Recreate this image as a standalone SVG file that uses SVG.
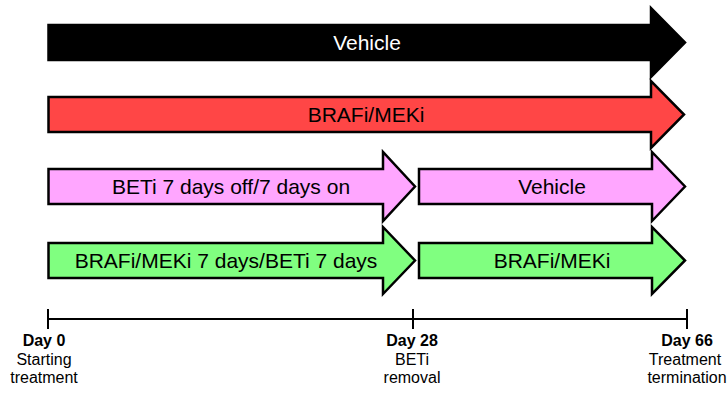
<svg xmlns="http://www.w3.org/2000/svg" width="728" height="396" viewBox="0 0 728 396">
  <style>
    .arrow { stroke: #000; stroke-width: 2.5; stroke-linejoin: miter; }
    .black { fill: #000; }
    .red { fill: #FF4646; }
    .pink { fill: #FFA6FF; }
    .green { fill: #80FF80; }
    .lbl { font-family: "Liberation Sans", Arial, sans-serif; font-size: 21px; text-anchor: middle; fill: #000; }
    .lbl.inv { fill: #fff; }
    .axis { stroke: #000; stroke-width: 2; fill: none; }
    .day { font-family: "Liberation Sans", Arial, sans-serif; font-size: 16px; font-weight: bold; text-anchor: middle; fill: #000; }
    .note { font-family: "Liberation Sans", Arial, sans-serif; font-size: 16px; text-anchor: middle; fill: #000; }
  </style>

  <!-- Row 1: vehicle, full length -->
  <g id="vehicle-full">
    <path class="arrow black" d="M48.5,25 H651 V8 L685,42.5 L651,77 V60 H48.5 Z"/>
    <text class="lbl inv" x="367" y="50">Vehicle</text>
  </g>

  <!-- Row 2: BRAFi/MEKi, full length -->
  <g id="brafi-meki-full">
    <path class="arrow red" d="M48.5,97 H651 V81 L684,114.5 L651,148 V132 H48.5 Z"/>
    <text class="lbl" x="366" y="122">BRAFi/MEKi</text>
  </g>

  <!-- Row 3: BETi intermittent, then vehicle -->
  <g id="beti-intermittent">
    <path class="arrow pink" d="M48.5,169 H383 V152 L415,186.5 L383,221 V204 H48.5 Z"/>
    <text class="lbl" x="231" y="194">BETi 7 days off/7 days on</text>
  </g>
  <g id="vehicle-after">
    <path class="arrow pink" d="M419,169 H652 V152 L685,186.5 L652,221 V204 H419 Z"/>
    <text class="lbl" x="552" y="194">Vehicle</text>
  </g>

  <!-- Row 4: alternating BRAFi/MEKi and BETi, then BRAFi/MEKi -->
  <g id="alternating">
    <path class="arrow green" d="M48.5,243 H383 V227 L415,260.5 L383,294 V278 H48.5 Z"/>
    <text class="lbl" x="226" y="268">BRAFi/MEKi 7 days/BETi 7 days</text>
  </g>
  <g id="brafi-meki-after">
    <path class="arrow green" d="M419,243 H652 V227 L685,260.5 L652,294 V278 H419 Z"/>
    <text class="lbl" x="552" y="268">BRAFi/MEKi</text>
  </g>

  <!-- Timeline -->
  <g id="timeline">
    <path class="axis" d="M48,319 H687 M48,309 V329 M413,309 V329 M687,309 V329"/>
  </g>

  <g id="day0">
    <text class="day" x="44" y="346">Day 0</text>
    <text class="note" x="44" y="364.5">Starting</text>
    <text class="note" x="44" y="383">treatment</text>
  </g>
  <g id="day28">
    <text class="day" x="412" y="346">Day 28</text>
    <text class="note" x="412" y="364.5">BETi</text>
    <text class="note" x="412" y="383">removal</text>
  </g>
  <g id="day66">
    <text class="day" x="687" y="346">Day 66</text>
    <text class="note" x="685" y="364.5">Treatment</text>
    <text class="note" x="687" y="383">termination</text>
  </g>
</svg>
